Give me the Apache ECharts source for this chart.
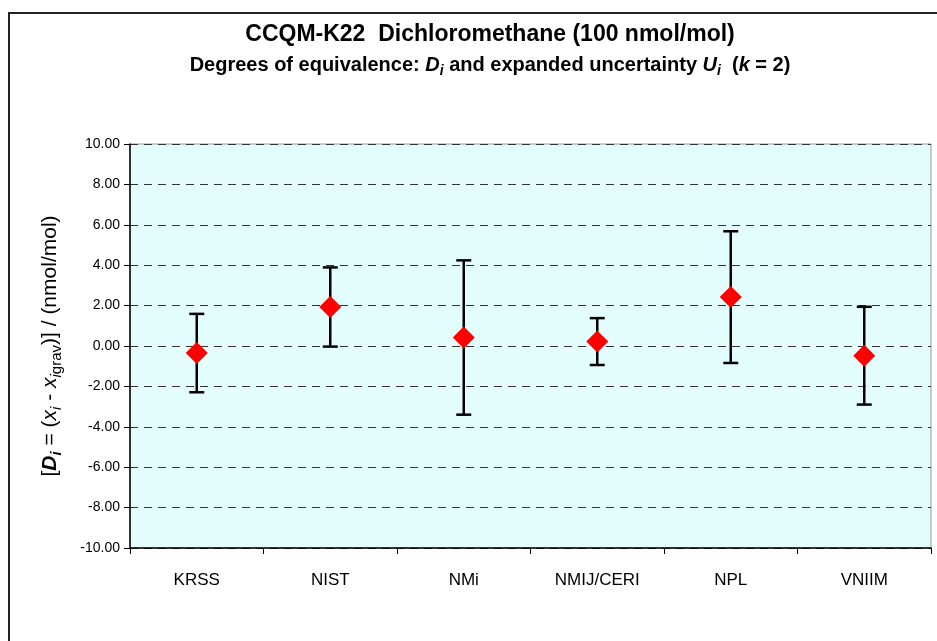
<!DOCTYPE html>
<html>
<head>
<meta charset="utf-8">
<script src="https://cdn.jsdelivr.net/npm/echarts@6/dist/echarts.min.js"></script>
<style>html,body{margin:0;padding:0;background:#fff}#c{width:937px;height:641px}</style>
</head>
<body>
<div id="c"></div>
<script>
// Data
var categories = ['KRSS', 'NIST', 'NMi', 'NMIJ/CERI', 'NPL', 'VNIIM'];
var degreesOfEquivalence = [-0.35, 1.93, 0.42, 0.22, 2.42, -0.48];   // D_i (nmol/mol)
var expandedUncertainty = [1.94, 1.96, 3.82, 1.16, 3.26, 2.42];      // U_i (k = 2)
var yTicks = { min: -10, max: 10, interval: 2 };

var FONT = '"Liberation Sans", Arial, sans-serif';
var chart = echarts.init(document.getElementById('c'), null, { renderer: 'canvas' });

var errData = categories.map(function (c, i) {
  return [i, degreesOfEquivalence[i] - expandedUncertainty[i], degreesOfEquivalence[i] + expandedUncertainty[i]];
});
var ptData = categories.map(function (c, i) { return [i, degreesOfEquivalence[i]]; });

function richSet(size) {
  var sub = Math.round(size * 0.7);
  var lh = Math.round(size * 1.3);
  return {
    bi: { fontFamily: FONT, fontWeight: 'bold', fontStyle: 'italic', fontSize: size, lineHeight: lh },
    sub: { fontFamily: FONT, fontWeight: 'bold', fontStyle: 'italic', fontSize: sub, verticalAlign: 'bottom', lineHeight: lh },
    it: { fontFamily: FONT, fontStyle: 'italic', fontSize: size, lineHeight: lh },
    isub: { fontFamily: FONT, fontStyle: 'italic', fontSize: sub, verticalAlign: 'bottom', lineHeight: lh },
    gsub: { fontFamily: FONT, fontSize: sub, verticalAlign: 'bottom', lineHeight: lh }
  };
}

var option = {
  animation: false,
  backgroundColor: '#ffffff',
  graphic: [{
    type: 'rect', silent: true, z: -10,
    shape: { x: 9, y: 13, width: 1000, height: 1000 },
    style: { fill: 'none', stroke: '#222', lineWidth: 2 }
  }],
  title: [{
    text: 'CCQM-K22  Dichloromethane (100 nmol/mol)',
    left: 485, top: 18, textAlign: 'center',
    textStyle: { fontFamily: FONT, fontWeight: 'bold', fontSize: 23, color: '#000' }
  }, {
    text: 'Degrees of equivalence: {bi|D}{sub|i} and expanded uncertainty {bi|U}{sub|i}  ({bi|k} = 2)',
    left: 485, top: 47, textAlign: 'center',
    textStyle: {
      fontFamily: FONT, fontWeight: 'bold', fontSize: 20, color: '#000', lineHeight: 26,
      rich: richSet(20)
    }
  }],
  grid: { left: 130, right: 6, top: 144, bottom: 93, show: true, backgroundColor: '#e3fcfc', borderColor: '#999', borderWidth: 1 },
  xAxis: {
    type: 'category', data: categories, boundaryGap: true,
    axisLine: { onZero: false, lineStyle: { color: '#000', width: 1.5 } },
    axisTick: { show: true, length: 6, lineStyle: { color: '#000' } },
    axisLabel: { fontFamily: FONT, fontSize: 17, color: '#000', margin: 24 },
    splitLine: { show: false }
  },
  yAxis: {
    type: 'value', min: yTicks.min, max: yTicks.max, interval: yTicks.interval,
    axisLine: { show: true, lineStyle: { color: '#000', width: 1.5 } },
    axisTick: { show: true, length: 6, inside: false, lineStyle: { color: '#000' } },
    axisLabel: { fontFamily: FONT, fontSize: 14, color: '#000', margin: 10,
      formatter: function (v) { return v.toFixed(2); } },
    splitLine: { show: true, lineStyle: { color: '#333', type: [8, 6], width: 1.2 } },
    name: '[{bi|D}{sub|i} = ({it|x}{isub|i} - {it|x}{isub|i}{gsub|grav})] / (nmol/mol)',
    nameLocation: 'middle', nameGap: 66, nameRotate: 90,
    nameTextStyle: {
      fontFamily: FONT, fontSize: 21, color: '#000', lineHeight: 27,
      rich: richSet(21)
    }
  },
  series: [{
    type: 'custom',
    data: errData,
    encode: { x: 0, y: [1, 2] },
    z: 3,
    renderItem: function (params, api) {
      var x = api.value(0);
      var lo = api.coord([x, api.value(1)]);
      var hi = api.coord([x, api.value(2)]);
      var hw = 7.5;
      var st = { stroke: '#000', lineWidth: 2.5, fill: 'none' };
      return {
        type: 'group',
        children: [
          { type: 'line', shape: { x1: lo[0], y1: lo[1], x2: hi[0], y2: hi[1] }, style: st },
          { type: 'line', shape: { x1: lo[0] - hw, y1: lo[1], x2: lo[0] + hw, y2: lo[1] }, style: st },
          { type: 'line', shape: { x1: hi[0] - hw, y1: hi[1], x2: hi[0] + hw, y2: hi[1] }, style: st }
        ]
      };
    }
  }, {
    type: 'scatter',
    data: ptData,
    symbol: 'diamond',
    symbolSize: [22, 22],
    z: 5,
    itemStyle: { color: '#ff0000', opacity: 1 }
  }]
};
chart.setOption(option);
</script>
</body>
</html>
